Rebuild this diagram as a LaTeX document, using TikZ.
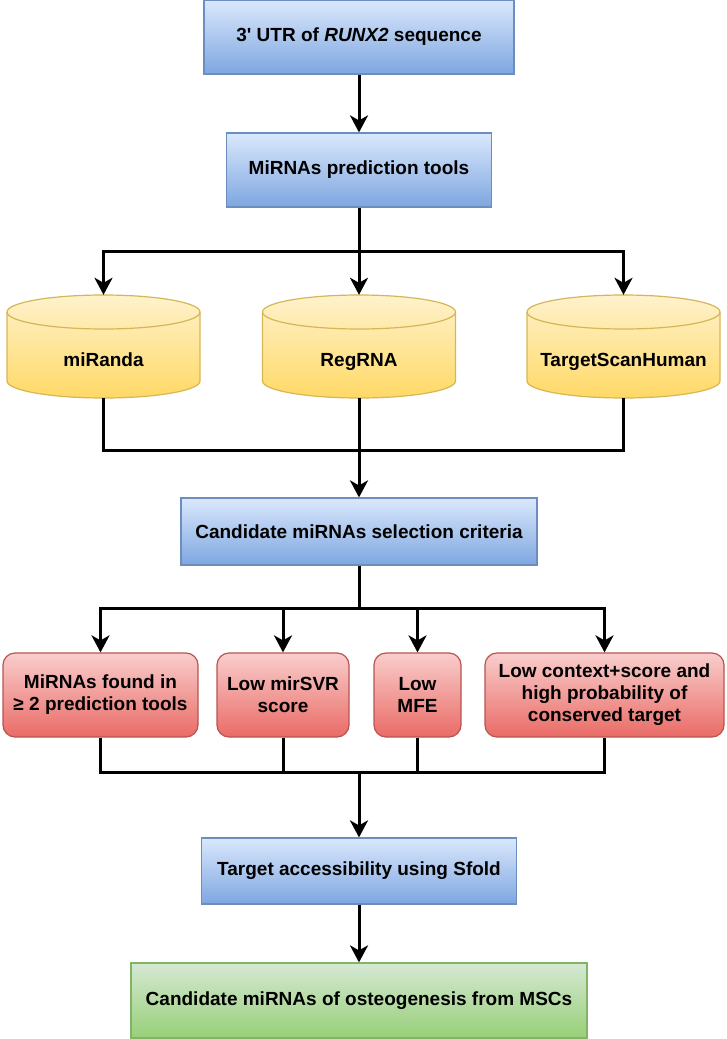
\documentclass[tikz,border=0pt]{standalone}
\usepackage{fontspec}
\setmainfont{Liberation Sans}
\usetikzlibrary{arrows.meta,positioning,calc}

\definecolor{blueT}{HTML}{DAE8FC}
\definecolor{blueB}{HTML}{7EA6E0}
\definecolor{blueL}{HTML}{6C8EBF}
\definecolor{yelT}{HTML}{FFF2CC}
\definecolor{yelB}{HTML}{FFD966}
\definecolor{yelL}{HTML}{D6B656}
\definecolor{redT}{HTML}{F8CECC}
\definecolor{redB}{HTML}{EA6B66}
\definecolor{redL}{HTML}{B85450}
\definecolor{grnT}{HTML}{D5E8D4}
\definecolor{grnB}{HTML}{97D077}
\definecolor{grnL}{HTML}{82B366}

\begin{document}
\begin{tikzpicture}[x=1pt,y=1pt,
  every node/.append style={align=center,inner sep=0pt,font=\fontsize{19}{22}\selectfont\bfseries},
  bluebox/.style={draw=blueL,line width=1.2pt,top color=blueT,bottom color=blueB},
  redbox/.style={draw=redL,line width=1.2pt,top color=redT,bottom color=redB,rounded corners=12pt,minimum height=84pt},
  grnbox/.style={draw=grnL,line width=1.2pt,top color=grnT,bottom color=grnB},
  dbnode/.style={minimum width=193pt,minimum height=103pt,text height=44pt,text depth=4pt},
  flow/.style={line width=3pt},
  arr/.style={flow,-{Stealth[length=17pt,width=18pt,inset=5pt]}}]
\useasboundingbox (0,0) rectangle (726,-1039);

\node[bluebox,minimum width=310pt,minimum height=74pt] (utr) at (359,-37) {3\textquotesingle{} UTR of \textit{RUNX2} sequence};
\node[bluebox,minimum width=265pt,minimum height=74pt] (tools) at (359,-170) {MiRNAs prediction tools};

% databases
\foreach \n/\cx/\t in {miranda/103.5/miRanda,regrna/359/RegRNA,tscan/623.5/TargetScanHuman}{
  \shadedraw[top color=yelT,bottom color=yelB,draw=yelL,line width=1.2pt]
    (\cx-96.5,-312) arc[start angle=180,end angle=0,x radius=96.5,y radius=17]
    -- (\cx+96.5,-381) arc[start angle=0,end angle=-180,x radius=96.5,y radius=17] -- cycle;
  \draw[yelL,line width=1.2pt] (\cx-96.5,-312) arc[start angle=180,end angle=360,x radius=96.5,y radius=17];
  \node[dbnode] (\n) at (\cx,-346.5) {\t};
}

\node[bluebox,minimum width=356pt,minimum height=67pt] (crit) at (359,-531.5) {Candidate miRNAs selection criteria};

\foreach \i/\cx/\w/\t in {1/100.5/195/{MiRNAs found in\\≥ 2 prediction tools},
                         2/283/132/{Low mirSVR\\score},
                         3/417.5/87/{Low\\MFE},
                         4/604.5/239/{Low context+score and\\high probability of\\conserved target}}
  \node[redbox,minimum width=\w pt] (c\i) at (\cx,-695) {\t};

\node[bluebox,minimum width=315pt,minimum height=66pt] (sfold) at (359,-871) {Target accessibility using Sfold};
\node[grnbox,minimum width=456pt,minimum height=75pt] (cand) at (359,-1000.5) {Candidate miRNAs of osteogenesis from MSCs};

% connectors
\coordinate (s1) at (359,-251);
\coordinate (m1) at (359,-450);
\coordinate (s2) at (359,-608);
\coordinate (m2) at (359,-772);

\draw[arr] (utr) -- (tools);
\draw[flow] (tools.south) -- (s1);
\foreach \n in {miranda,regrna,tscan}
  \draw[arr] (s1) -| (\n.north);
\draw[flow] (miranda.south) |- (m1) -| (tscan.south);
\draw[arr] (regrna.south) -- (crit.north);
\draw[flow] (crit.south) -- (s2);
\foreach \i in {1,...,4}
  \draw[arr] (s2) -| (c\i.north);
\draw[flow] (c1.south) |- (m2) -| (c4.south);
\foreach \i in {2,3}
  \draw[flow] (c\i.south) -- (c\i.south |- m2);
\draw[arr] (m2) -- (sfold.north);
\draw[arr] (sfold) -- (cand);
\end{tikzpicture}
\end{document}
